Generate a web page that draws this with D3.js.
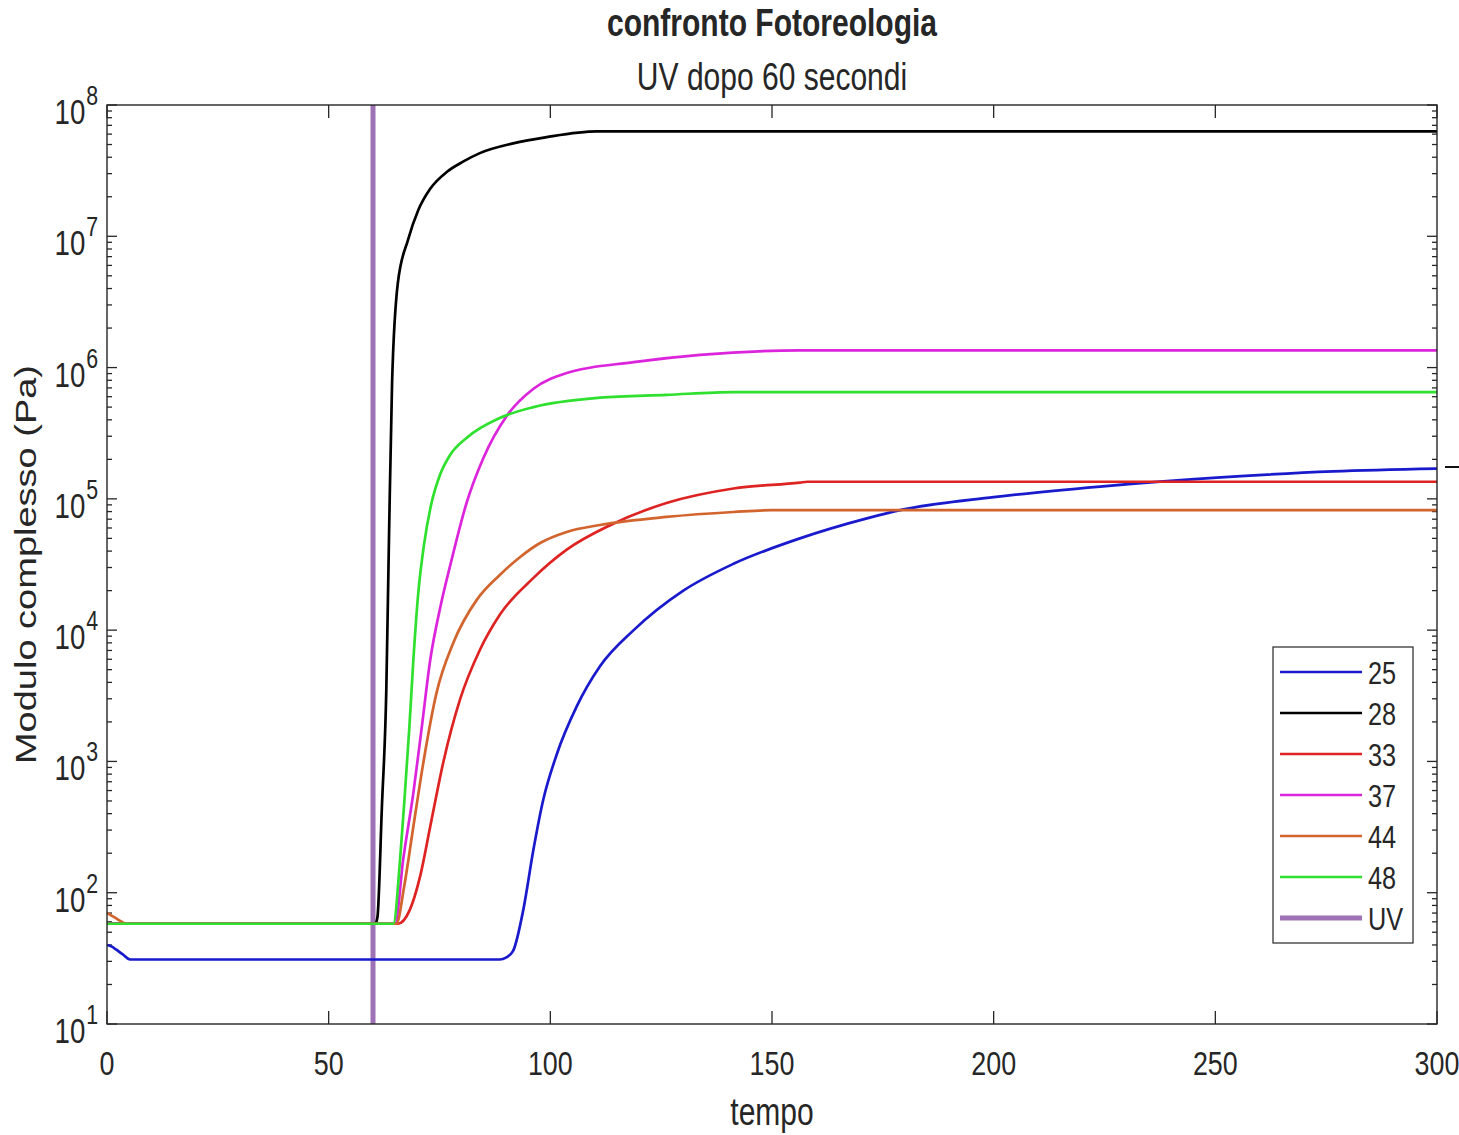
<!DOCTYPE html>
<html>
<head>
<meta charset="utf-8">
<script src="https://d3js.org/d3.v7.min.js"></script>
<style>
  * { margin: 0; padding: 0; }
  html, body { width: 1459px; height: 1135px; background: #fff; overflow: hidden; }
  body { font-family: 'Liberation Sans', Arial, Helvetica, sans-serif; }
  svg text { fill: #262626; }
</style>
</head>
<body>
<div id="chart"></div>
<script>
// values: [tempo, modulo complesso (Pa)]
const s25 = [[0,40],[1,39],[2,37],[3.5,34],[5.2,31],[88.6,31],[90,32],[91.6,36],[93.9,74],[96.2,214],[98.4,510],
  [101.4,1120],[105.9,2600],[111.2,5300],[118.8,1e4],[130,2e4],[141.3,3.2e4],[156.3,5e4],[171.4,7.1e4],
  [178.9,8.2e4],[200,1.03e5],[224,1.24e5],[250.3,1.45e5],[276.6,1.62e5],[300,1.7e5]];
const s28 = [[0,58],[60.5,58],[61,65],[62,446],[63,3500],[63.6,4.9e4],[64.3,7.6e5],[65.6,4.4e6],[67.9,9.4e6],
  [70.2,1.58e7],[72.9,2.3e7],[76.7,3.1e7],[80.3,3.7e7],[84.1,4.3e7],[91.6,5.1e7],[99.2,5.7e7],[110.5,6.3e7],[300,6.3e7]];
const s33 = [[0,58],[65.6,58],[68.3,74],[70.6,132],[72.9,318],[75.9,1000],[79.6,2940],[84.1,7060],[88.6,1.31e4],
  [96.2,2.5e4],[103.7,4.1e4],[113.5,6.3e4],[126.2,9.3e4],[141.3,1.2e5],[156.3,1.33e5],[158,1.35e5],[300,1.35e5]];
const s37 = [[0,58],[65,58],[66.8,178],[69.1,575],[71,1820],[72.9,5900],[75.3,1.56e4],[77.7,3.4e4],[81.1,9.3e4],
  [84.9,2.05e5],[90.2,4.3e5],[96.2,6.9e5],[103.7,9.1e5],[118.8,1.1e6],[133.8,1.25e6],[156.3,1.35e6],[300,1.35e6]];
const s44 = [[0,70],[1,67],[2,64],[3,61],[4.3,58],[65.3,58],[67,110],[69.1,318],[71.4,1000],[74.3,3300],[78.1,7980],
  [83.4,1.7e4],[88.6,2.63e4],[93.2,3.61e4],[97.7,4.61e4],[103.7,5.6e4],[111.2,6.32e4],[126.2,7.28e4],[141.3,7.94e4],
  [150,8.2e4],[300,8.2e4]];
const s48 = [[0,58],[64.6,58],[66.1,178],[67.2,575],[68.2,1820],[69.1,5900],[70.2,1.9e4],[71.5,4.46e4],[73.1,9e4],
  [75.1,1.52e5],[77.4,2.16e5],[81.1,2.91e5],[88.6,4.13e5],[96.2,5e5],[111.2,5.9e5],[126.2,6.2e5],[141.3,6.5e5],[300,6.5e5]];

const seriesNames = ['25', '28', '33', '37', '44', '48'];
const seriesData = [s25, s28, s33, s37, s44, s48];
const seriesColors = ['#1a1acd', '#000000', '#de2323', '#dc24dc', '#d2642e', '#2fe02f'];

const uvTime = 60;
const uvColor = '#9e72b4';
const xTicks = [0, 50, 100, 150, 200, 250, 300];
const yExponents = [1, 2, 3, 4, 5, 6, 7, 8];

const W = 1459, H = 1135;
const pL = 107, pR = 1437, pT = 105, pB = 1024;
const sx = 0.79; // the reference is horizontally squeezed

const svg = d3.select('#chart').append('svg').attr('width', W).attr('height', H);

const x = d3.scaleLinear().domain([0, 300]).range([pL, pR]);
const y = d3.scaleLog().domain([10, 1e8]).range([pB, pT]);

function label(g, tx, ty, str, size, anchor, weight) {
  return g.append('text')
    .attr('transform', `translate(${tx},${ty}) scale(${sx},1)`)
    .attr('text-anchor', anchor)
    .style('font-size', size + 'px')
    .style('font-weight', weight || 'normal')
    .text(str);
}

svg.append('defs').append('clipPath').attr('id', 'clip')
  .append('rect').attr('x', pL).attr('y', pT).attr('width', pR - pL).attr('height', pB - pT);

// ticks (inward on all four sides)
const tickG = svg.append('g').attr('stroke', '#262626').attr('stroke-width', 1.3);
xTicks.forEach(t => {
  tickG.append('line').attr('x1', x(t)).attr('x2', x(t)).attr('y1', pB).attr('y2', pB - 13);
  tickG.append('line').attr('x1', x(t)).attr('x2', x(t)).attr('y1', pT).attr('y2', pT + 13);
});
yExponents.forEach(e => {
  const base = Math.pow(10, e);
  tickG.append('line').attr('x1', pL).attr('x2', pL + 10).attr('y1', y(base)).attr('y2', y(base));
  tickG.append('line').attr('x1', pR).attr('x2', pR - 10).attr('y1', y(base)).attr('y2', y(base));
  if (e < 8) {
    for (let m = 2; m <= 9; m++) {
      const v = m * base;
      tickG.append('line').attr('x1', pL).attr('x2', pL + 5).attr('y1', y(v)).attr('y2', y(v));
      tickG.append('line').attr('x1', pR).attr('x2', pR - 5).attr('y1', y(v)).attr('y2', y(v));
    }
  }
});

// tick labels
xTicks.forEach(t => label(svg, x(t), 1075, String(t), 34, 'middle'));
yExponents.forEach(e => {
  const t = svg.append('text')
    .attr('transform', `translate(98,${y(Math.pow(10, e)) + 19}) scale(${sx},1)`)
    .attr('text-anchor', 'end')
    .style('font-size', '35px')
    .text('10');
  t.append('tspan').attr('dx', 1).attr('dy', -19).style('font-size', '27px').text(e);
});

// UV marker
svg.append('line')
  .attr('x1', x(uvTime)).attr('x2', x(uvTime)).attr('y1', pT).attr('y2', pB)
  .attr('stroke', uvColor).attr('stroke-width', 5);

// data lines
const line = d3.line().x(d => x(d[0])).y(d => y(d[1])).curve(d3.curveMonotoneX);
const linesG = svg.append('g').attr('clip-path', 'url(#clip)');
seriesData.forEach((s, i) => {
  linesG.append('path').datum(s)
    .attr('d', line)
    .attr('fill', 'none')
    .attr('stroke', seriesColors[i])
    .attr('stroke-width', 2.7)
    .attr('stroke-linejoin', 'round');
});

// box
svg.append('rect')
  .attr('x', pL).attr('y', pT).attr('width', pR - pL).attr('height', pB - pT)
  .attr('fill', 'none').attr('stroke', '#262626').attr('stroke-width', 1.4);

// stray mark outside the right edge
svg.append('line').attr('x1', 1445).attr('x2', 1459).attr('y1', 467).attr('y2', 467)
  .attr('stroke', '#111').attr('stroke-width', 2);

// titles
label(svg, (pL + pR) / 2, 36, 'confronto Fotoreologia', 38, 'middle', 'bold');
label(svg, (pL + pR) / 2, 90, 'UV dopo 60 secondi', 38, 'middle');
label(svg, (pL + pR) / 2, 1125, 'tempo', 38, 'middle');
svg.append('text')
  .attr('transform', `translate(36,${(pT + pB) / 2}) scale(${sx},1) rotate(-90)`)
  .attr('text-anchor', 'middle')
  .style('font-size', '38px')
  .text('Modulo complesso (Pa)');

// legend
const legNames = seriesNames.concat(['UV']);
const legColors = seriesColors.concat([uvColor]);
const leg = svg.append('g');
leg.append('rect').attr('x', 1273).attr('y', 647).attr('width', 140).attr('height', 296)
  .attr('fill', '#fff').attr('stroke', '#262626').attr('stroke-width', 1.2);
legNames.forEach((n, i) => {
  const ly = 672 + i * 41;
  leg.append('line').attr('x1', 1280).attr('x2', 1362).attr('y1', ly).attr('y2', ly)
    .attr('stroke', legColors[i]).attr('stroke-width', n === 'UV' ? 5 : 2.7);
  label(leg, 1368, ly + 11.5, n, 32, 'start');
});
</script>
</body>
</html>
